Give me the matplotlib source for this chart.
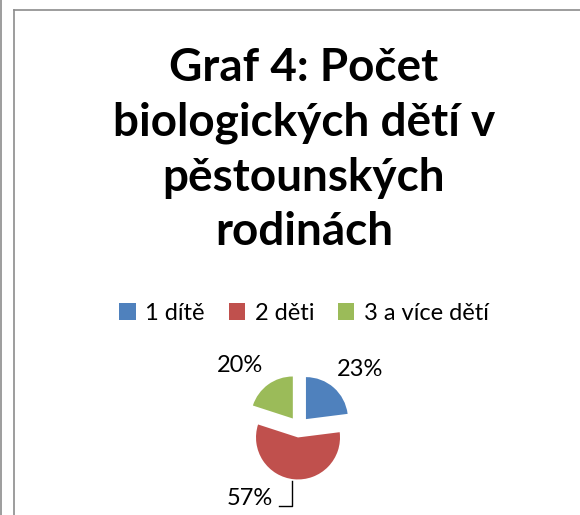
import matplotlib.pyplot as plt
from matplotlib.lines import Line2D
from matplotlib.patches import Patch

categories = ['1 dítě', '2 děti', '3 a více dětí']
shares = [23, 57, 20]
colors = ['#4f81bd', '#c0504d', '#9bbb59']
title = 'Graf 4: Počet\nbiologických dětí v\npěstounských\nrodinách'

W, H = 580, 515
fig = plt.figure(figsize=(W / 100, H / 100), dpi=100)
fig.patch.set_facecolor('white')

# frame lines like the original screenshot
fig.add_artist(Line2D([0.5 / W, 0.5 / W], [0, 1], color='#8c8c8c', lw=1.2))
fig.add_artist(Line2D([13.5 / W, 13.5 / W], [0, 1 - 9.5 / H], color='#8c8c8c', lw=1.2))
fig.add_artist(Line2D([13.5 / W, 1], [1 - 9.5 / H, 1 - 9.5 / H], color='#8c8c8c', lw=1.2))

fig.text(304 / W, 1 - 150 / H, title, ha='center', va='center', fontsize=33,
         fontweight='bold', family='Lato', linespacing=1.375)

handles = [Patch(facecolor=c, edgecolor='none') for c in colors]
fig.legend(handles, categories, loc='center', bbox_to_anchor=(304 / W, 1 - 313 / H),
           ncol=3, frameon=False, prop={'family': 'Lato', 'size': 17},
           handlelength=0.7, handleheight=0.7, handletextpad=0.4, columnspacing=1.0)

# pie: radius 42 px, centre at (299, 427) px
R = 42
cx, cy = 299, H - 427
half = 2.4
side = 2 * half * R
ax = fig.add_axes([(cx - side / 2) / W, (cy - side / 2) / H, side / W, side / H])
ax.set_xlim(-half, half)
ax.set_ylim(-half, half)
ax.axis('off')

wedges, texts, autotexts = ax.pie(shares, colors=colors, startangle=90, counterclock=False,
                                  explode=[0.25] * 3, autopct='%d%%', pctdistance=1.8,
                                  wedgeprops={'edgecolor': 'none'},
                                  textprops={'family': 'Lato', 'size': 17})
ax.set_xlim(-half, half)
ax.set_ylim(-half, half)

# label spots as Excel put them (in pie radii)
label_pos = [(1.46, 1.37), (-1.17, -1.70), (-1.40, 1.46)]
for t, p in zip(autotexts, label_pos):
    t.set_position(p)
ax.plot([-0.17, -0.17, -0.48], [-1.28, -1.88, -1.88], color='black', lw=1, clip_on=False)

fig.savefig('out.png', dpi=100)
